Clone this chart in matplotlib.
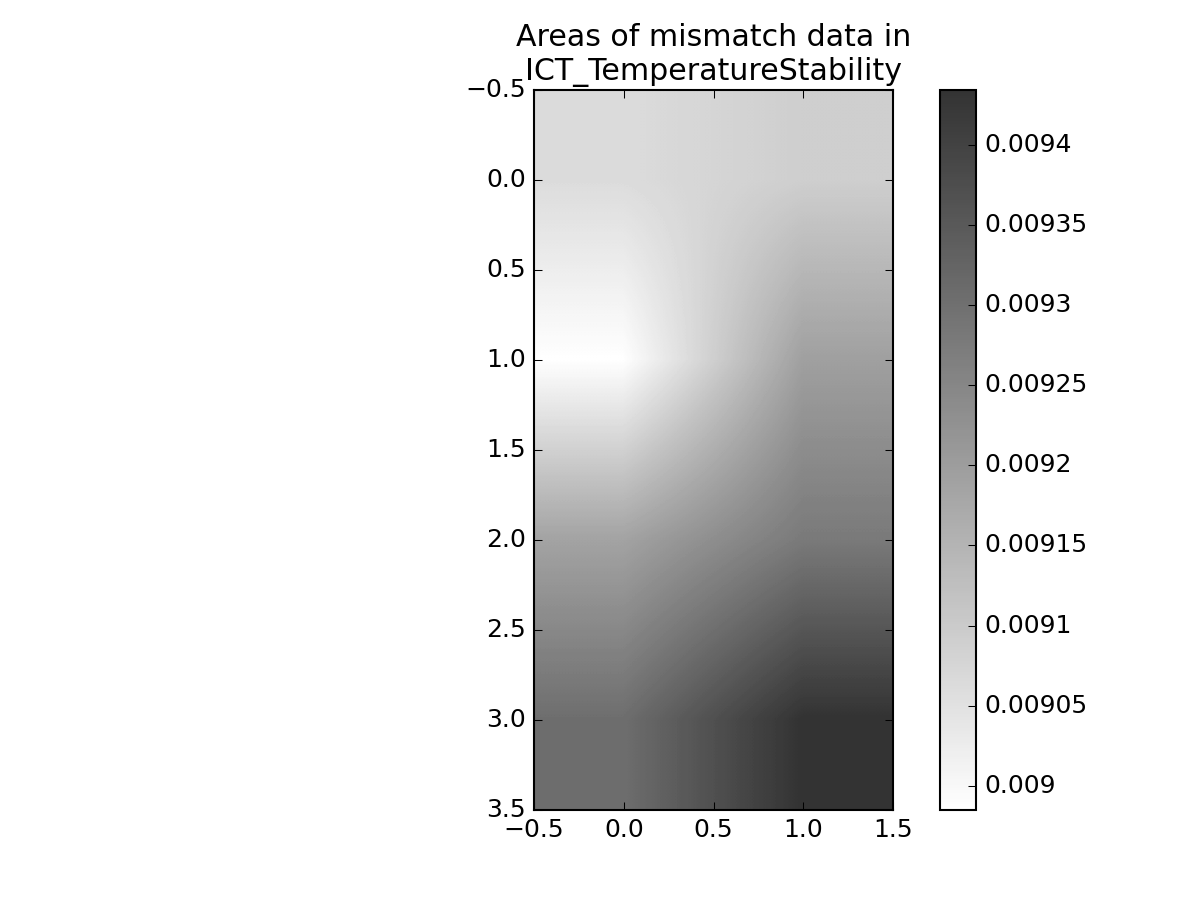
import matplotlib
matplotlib.use("Agg")
import matplotlib.pyplot as plt
import numpy as np

plt.style.use("classic")

title = "Areas of mismatch data in\nICT_TemperatureStability"
col0 = [0.009062, 0.008985, 0.009187, 0.009304]
col1 = [0.009091, 0.009194, 0.009278, 0.009434]
data = np.column_stack([col0, col1])

fig = plt.figure(figsize=(8, 6), dpi=150)
fig.patch.set_facecolor("white")
ax = fig.add_axes([534/1200, 0.1, 359/1200, 0.8])
im = ax.imshow(data, cmap="gray_r", alpha=0.8, interpolation="bilinear", aspect="auto")
ax.set_xlim(-0.5, 1.5)
ax.set_ylim(3.5, -0.5)
ax.set_title(title)
cax = fig.add_axes([940/1200, 0.1, 36/1200, 0.8])
cb = fig.colorbar(im, cax=cax)
cb.set_ticks([0.009, 0.00905, 0.0091, 0.00915, 0.0092, 0.00925, 0.0093, 0.00935, 0.0094])
cb.set_ticklabels(["0.009", "0.00905", "0.0091", "0.00915", "0.0092", "0.00925", "0.0093", "0.00935", "0.0094"])
fig.savefig("out.png", dpi=150, facecolor="white")
